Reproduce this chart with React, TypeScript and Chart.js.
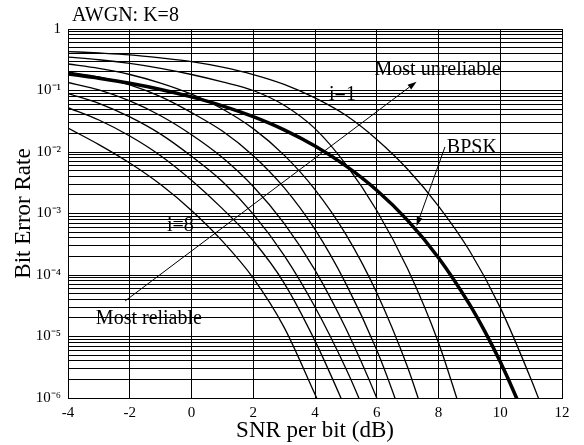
import React, { useEffect, useRef } from 'react';
import { Chart, registerables } from 'chart.js';

Chart.register(...registerables);

// ---------------- data ----------------
const snrBPSK = [-4, -3, -2, -1, 0, 1, 2, 3, 4, 5, 6, 7, 8, 9, 9.5, 10, 10.5, 11];
const berBPSK = [0.186, 0.158, 0.131, 0.104, 0.0786, 0.0563, 0.0375, 0.0229, 0.0125, 5.95e-3, 2.39e-3, 7.73e-4, 1.91e-4, 3.36e-5, 1.21e-5, 3.87e-6, 1.08e-6, 2.61e-7];

const snrI1 = [-4, -3, -2, -1, 0, 1, 2, 3, 4, 5, 6, 7, 8, 9, 10, 11, 11.5];
const berI1 = [0.43, 0.407, 0.38, 0.339, 0.295, 0.24, 0.182, 0.126, 0.0759, 0.0395, 0.016, 5.25e-3, 1.32e-3, 2.5e-4, 2.95e-5, 2.0e-6, 4.5e-7];

const snrI2 = [-4, -3, -2, -1, 0, 1, 2, 3, 4, 5, 6, 7, 8, 8.59, 9];
const berI2 = [0.35, 0.316, 0.275, 0.229, 0.182, 0.138, 0.1, 0.0575, 0.024, 6.31e-3, 1.12e-3, 1.26e-4, 7.94e-6, 1.0e-6, 2.2e-7];

const snrI3 = [-4, -3, -2, -1, 0, 1, 2, 3, 4, 5, 6, 7, 7.34, 7.8];
const berI3 = [0.27, 0.229, 0.182, 0.132, 0.087, 0.0501, 0.024, 8.9e-3, 2.45e-3, 4.57e-4, 5.13e-5, 3.16e-6, 1.0e-6, 2.0e-7];

const snrI4 = [-4, -3, -2, -1, 0, 1, 2, 3, 4, 5, 6, 6.59, 7];
const berI4 = [0.2, 0.166, 0.123, 0.0794, 0.0437, 0.0219, 8.7e-3, 2.63e-3, 5.5e-4, 7.24e-5, 6.03e-6, 1.0e-6, 2.5e-7];

const snrI5 = [-4, -3, -2, -1, 0, 1, 2, 3, 4, 5, 6, 6.5];
const berI5 = [0.135, 0.102, 0.0676, 0.0389, 0.0191, 8.13e-3, 2.75e-3, 6.92e-4, 1.2e-4, 1.35e-5, 1.0e-6, 2.2e-7];

const snrI6 = [-4, -3, -2, -1, 0, 1, 2, 3, 4, 5, 5.42, 5.9];
const berI6 = [0.0891, 0.0617, 0.0372, 0.0195, 8.51e-3, 3.31e-3, 9.77e-4, 2.09e-4, 3.02e-5, 3.02e-6, 1.0e-6, 2.5e-7];

const snrI7 = [-4, -3, -2, -1, 0, 1, 2, 3, 4, 4.84, 5.3];
const berI7 = [0.0525, 0.0331, 0.0182, 8.71e-3, 3.47e-3, 1.2e-3, 3.6e-4, 7.4e-5, 8.5e-6, 1.0e-6, 2.8e-7];

const snrI8 = [-4, -3, -2, -1, 0, 1, 2, 3, 4, 4.5];
const berI8 = [0.0245, 0.0132, 6.61e-3, 2.95e-3, 1.12e-3, 3.55e-4, 8.91e-5, 1.41e-5, 1.15e-6, 3.2e-7];

const xTickValues = [-4, -2, 0, 2, 4, 6, 8, 10, 12];
const yMajorValues = [1e-6, 1e-5, 1e-4, 1e-3, 1e-2, 1e-1, 1];
const yMajorLabels = ['10⁻⁶', '10⁻⁵', '10⁻⁴', '10⁻³', '10⁻²', '10⁻¹', '1'];

const chartTitle = 'AWGN: K=8';
const xTitle = 'SNR per bit (dB)';
const yTitle = 'Bit Error Rate';

// annotation texts placed in data coordinates
const noteTexts = ['Most unreliable', 'i=1', 'BPSK', 'i=8', 'Most reliable'];
const noteX = [7.97, 4.89, 9.08, -0.36, -1.38];
const noteY = [0.215, 0.0845, 0.0116, 6.26e-4, 1.96e-5];

// arrows: [fromX, fromY, toX, toY] in data coordinates
const arrowFromX = [-2.15, 8.21];
const arrowFromY = [3.78e-5, 0.0121];
const arrowToX = [7.29, 7.29];
const arrowToY = [0.139, 6.26e-4];

const FONT = '"Liberation Serif", "Times New Roman", Times, serif';

function pts(xs: number[], ys: number[]) {
  return xs.map((x, k) => ({ x, y: ys[k] }));
}

export default function App() {
  const ref = useRef<HTMLCanvasElement | null>(null);

  useEffect(() => {
    const canvas = ref.current;
    if (!canvas) return;

    const yTicks: { value: number }[] = [];
    for (let e = -6; e < 0; e++) {
      for (let m = 1; m <= 9; m++) yTicks.push({ value: m * Math.pow(10, e) });
    }
    yTicks.push({ value: 1 });

    const thin = (label: string, xs: number[], ys: number[]) => ({
      label,
      data: pts(xs, ys),
      borderColor: '#000',
      borderWidth: 1.3,
      pointRadius: 0,
      fill: false,
      cubicInterpolationMode: 'monotone' as const,
    });

    const annotPlugin = {
      id: 'annot',
      afterDatasetsDraw(chart: any) {
        const { ctx, scales, chartArea } = chart;
        const xs = scales.x;
        const ys = scales.y;
        ctx.save();
        ctx.fillStyle = '#000';
        ctx.strokeStyle = '#000';
        ctx.font = `20px ${FONT}`;
        ctx.textAlign = 'center';
        ctx.textBaseline = 'middle';
        noteTexts.forEach((t, k) => {
          ctx.fillText(t, xs.getPixelForValue(noteX[k]), ys.getPixelForValue(noteY[k]));
        });
        ctx.lineWidth = 1;
        arrowFromX.forEach((_, k) => {
          const x0 = xs.getPixelForValue(arrowFromX[k]);
          const y0 = ys.getPixelForValue(arrowFromY[k]);
          const x1 = xs.getPixelForValue(arrowToX[k]);
          const y1 = ys.getPixelForValue(arrowToY[k]);
          const ang = Math.atan2(y1 - y0, x1 - x0);
          const L = 9;
          const W = 3;
          const bx = x1 - L * Math.cos(ang);
          const by = y1 - L * Math.sin(ang);
          ctx.beginPath();
          ctx.moveTo(x0, y0);
          ctx.lineTo(bx, by);
          ctx.stroke();
          ctx.beginPath();
          ctx.moveTo(x1, y1);
          ctx.lineTo(bx + W * Math.sin(ang), by - W * Math.cos(ang));
          ctx.lineTo(bx - W * Math.sin(ang), by + W * Math.cos(ang));
          ctx.closePath();
          ctx.fill();
        });
        ctx.font = `20px ${FONT}`;
        ctx.textAlign = 'left';
        ctx.textBaseline = 'middle';
        ctx.fillText(chartTitle, chartArea.left + 4, chartArea.top - 13);
        ctx.restore();
      },
    };

    const chart = new Chart(canvas, {
      type: 'line',
      data: {
        datasets: [
          thin('i=1', snrI1, berI1),
          thin('i=2', snrI2, berI2),
          thin('i=3', snrI3, berI3),
          thin('i=4', snrI4, berI4),
          thin('i=5', snrI5, berI5),
          thin('i=6', snrI6, berI6),
          thin('i=7', snrI7, berI7),
          thin('i=8', snrI8, berI8),
          {
            label: 'BPSK',
            data: pts(snrBPSK, berBPSK),
            borderColor: '#000',
            borderWidth: 3.5,
            pointRadius: 0,
            fill: false,
            cubicInterpolationMode: 'monotone' as const,
          },
        ],
      },
      options: {
        responsive: false,
        animation: false,
        events: [],
        layout: { padding: { top: 29, right: 22, left: 0, bottom: 0 } },
        plugins: {
          legend: { display: false },
          tooltip: { enabled: false },
          title: { display: false },
        },
        scales: {
          x: {
            type: 'linear',
            min: -4,
            max: 12,
            afterFit: (s: any) => {
              s.height = 47;
            },
            afterBuildTicks: (s: any) => {
              s.ticks = xTickValues.map((v) => ({ value: v }));
            },
            ticks: {
              color: '#000',
              font: { family: FONT, size: 15 },
              padding: 6,
              maxRotation: 0,
              autoSkip: false,
            },
            grid: { color: '#000', lineWidth: 1, drawTicks: false },
            border: { color: '#000', width: 1 },
            title: {
              display: true,
              text: xTitle,
              color: '#000',
              font: { family: FONT, size: 23 },
              padding: { top: 0, bottom: 0 },
            },
          },
          y: {
            type: 'logarithmic',
            min: 1e-6,
            max: 1,
            afterFit: (s: any) => {
              s.width = 68;
            },
            afterBuildTicks: (s: any) => {
              s.ticks = yTicks.map((t) => ({ value: t.value }));
            },
            ticks: {
              color: '#000',
              font: { family: FONT, size: 15 },
              padding: 7,
              autoSkip: false,
              callback: (value: any) => {
                const v = Number(value);
                const k = yMajorValues.findIndex((m) => Math.abs(v - m) / m < 1e-6);
                return k >= 0 ? yMajorLabels[k] : '';
              },
            },
            grid: { color: '#000', lineWidth: 1, drawTicks: false },
            border: { color: '#000', width: 1 },
            title: {
              display: true,
              text: yTitle,
              color: '#000',
              font: { family: FONT, size: 23 },
              padding: { top: 10, bottom: 0 },
            },
          },
        },
      },
      plugins: [annotPlugin],
    });

    return () => chart.destroy();
  }, []);

  return (
    <div style={{ position: 'absolute', left: 0, top: 0, width: 584, height: 445, background: '#fff' }}>
      <canvas ref={ref} width={584} height={445} />
    </div>
  );
}
